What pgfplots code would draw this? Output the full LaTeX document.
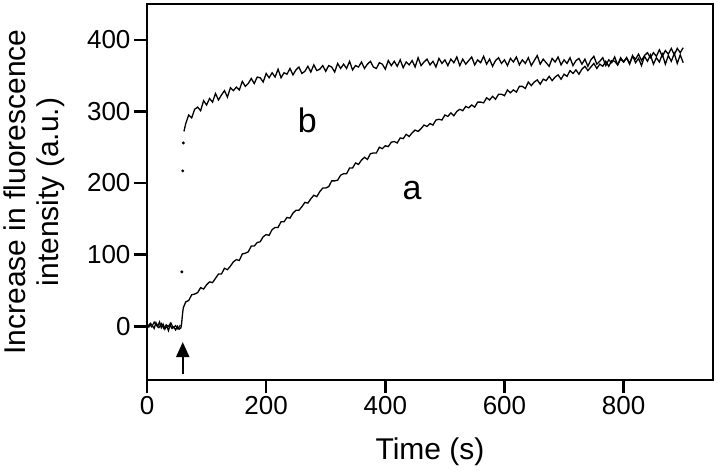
\documentclass[border=0pt]{standalone}
\usepackage{pgfplots}
\pgfplotsset{compat=1.18}
\usepackage{fontspec}
\setmainfont{Liberation Sans}
\usetikzlibrary{arrows.meta}
\begin{document}
\begin{tikzpicture}
\begin{axis}[
  name=ax,
  scale only axis,
  width=566pt, height=376pt,
  xmin=0, xmax=950, ymin=-75, ymax=450,
  xtick={0,200,400,600,800},
  ytick={0,100,200,300,400},
  tick pos=left,
  tick align=outside,
  major tick length=13pt,
  axis line style={line width=2.6pt},
  every tick/.style={line width=2.6pt, black},
  /pgf/number format/assume math mode=true,
  ticklabel style={font=\fontsize{26}{28}\selectfont},
  label style={font=\fontsize{30}{33}\selectfont},
  xlabel={Time (s)},
  ylabel={Increase in fluorescence\\intensity (a.u.)},
  xlabel style={at={(axis description cs:0.5,-0.152)}, anchor=north, inner sep=0pt},
  ylabel style={at={(axis description cs:-0.145,0.5)}, anchor=south, inner sep=0pt, align=center},
  clip=false,
]
% trace a (with baseline)
\addplot[line width=1.3pt, black] table {
0 2
3 -1
6 4
9 1
12 -3
15 5
18 0
21 6
24 -2
27 3
30 -4
33 1
36 -6
39 2
42 -3
45 -1
48 -5
51 0
54 -4
57 -2
58 3
59 12
60 20
61 26
63 30
65 34
70 36
75 44
80 45
85 47
90 54
95 52
100 58
105 62
110 61
115 67
120 73
125 73
130 81
135 79
140 84
145 90
150 93
155 92
160 101
165 102
170 104
175 112
180 112
185 117
190 118
195 125
200 128
205 127
210 135
215 138
220 138
225 146
230 146
235 152
240 151
245 158
250 162
255 162
260 167
265 173
270 172
275 178
280 183
285 181
290 188
295 193
300 193
305 195
310 203
315 203
320 204
325 211
330 213
335 213
340 221
345 221
350 228
355 226
360 232
365 236
370 233
375 241
380 242
385 242
390 250
395 248
400 252
405 251
410 257
415 258
420 256
425 263
430 262
435 268
440 265
445 270
450 274
455 272
460 276
465 281
470 279
475 283
480 281
485 288
490 289
495 288
500 295
505 293
510 298
515 294
520 300
525 303
530 301
535 307
540 305
545 309
550 306
555 313
560 313
565 312
570 319
575 316
580 321
585 317
590 324
595 324
600 322
605 330
610 326
615 330
620 327
625 335
630 335
635 332
640 341
645 336
650 341
655 344
660 338
665 345
670 343
675 349
680 343
685 348
690 351
695 345
700 352
705 349
710 357
715 353
720 358
725 352
730 359
735 363
740 357
745 362
750 367
755 360
760 366
765 363
770 370
775 363
780 371
785 370
790 365
795 375
800 369
805 375
810 367
815 377
820 373
825 380
830 371
835 378
840 382
845 375
850 382
855 377
860 386
865 377
870 385
875 380
880 388
885 379
890 388
895 382
900 389
};
% baseline (trace b)
\addplot[line width=1.1pt, black] table {
0 -2
4 3
8 -1
12 6
16 1
20 -2
24 4
28 -3
32 2
36 0
40 5
44 -2
48 1
52 -4
56 2
};
% rapid jump of trace b
\addplot[only marks, mark=*, mark size=1.3pt, black] coordinates {(58.5,76) (60,217) (61,256)};
% trace b
\addplot[line width=1.3pt, black] table {
62 272
65 283
70 295
75 291
80 303
85 306
90 301
95 315
100 309
105 318
110 313
115 325
120 316
125 323
130 329
135 320
140 333
145 329
150 334
155 330
160 342
165 335
170 339
175 346
180 339
185 348
190 347
195 341
200 353
205 347
210 354
215 348
220 359
225 347
230 354
235 352
240 360
245 351
250 358
255 362
260 353
265 356
270 363
275 355
280 365
285 357
290 359
295 364
300 356
305 364
310 362
315 355
320 367
325 360
330 366
335 360
340 370
345 358
350 364
355 362
360 369
365 360
370 366
375 370
380 362
385 360
390 368
395 366
400 359
405 371
410 364
415 370
420 363
425 372
430 361
435 369
440 365
445 371
450 362
455 375
460 364
465 369
470 373
475 365
480 370
485 362
490 374
495 367
500 372
505 364
510 373
515 368
520 376
525 364
530 373
535 366
540 371
545 376
550 365
555 372
560 368
565 377
570 366
575 373
580 363
585 371
590 375
595 367
600 372
605 364
610 374
615 369
620 376
625 365
630 372
635 367
640 375
645 364
650 371
655 378
660 366
665 373
670 368
675 363
680 374
685 369
690 376
695 365
700 372
705 367
710 375
715 364
720 371
725 374
730 366
735 373
740 363
745 372
750 377
755 366
760 370
765 375
770 364
775 372
780 368
785 376
790 365
795 373
800 369
805 375
810 366
815 378
820 368
825 374
830 364
835 377
840 370
845 379
850 366
855 375
860 369
865 380
870 366
875 378
880 370
885 381
890 367
895 379
900 368
};
\node[font=\fontsize{34}{36}\selectfont, inner sep=0pt] at (axis cs:269,288) {b};
\node[font=\fontsize{34}{36}\selectfont, inner sep=0pt] at (axis cs:445,190) {a};
\draw[line width=2.2pt, -{Triangle[length=15pt,width=13pt]}] (axis cs:60,-67) -- (axis cs:60,-22);
\end{axis}
\pgfresetboundingbox
\path[use as bounding box] ([shift={(-147pt,-95pt)}]ax.south west) rectangle ([shift={(5pt,4pt)}]ax.north east);
\end{tikzpicture}
\end{document}
